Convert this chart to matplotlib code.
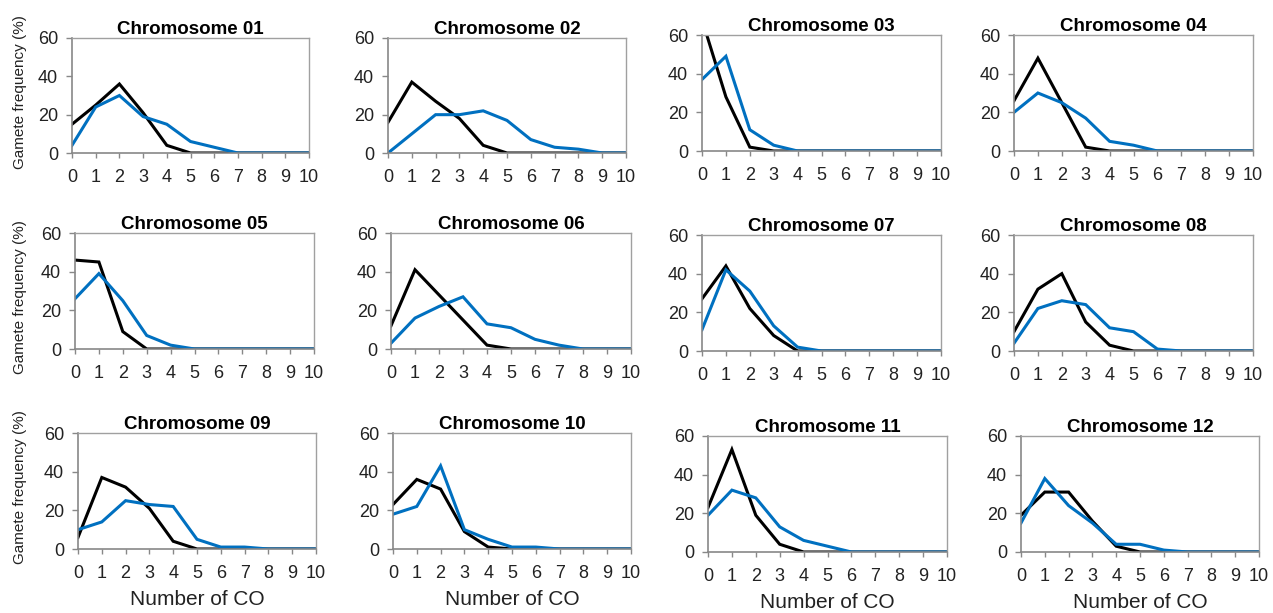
import matplotlib
matplotlib.use("Agg")
import matplotlib.pyplot as plt

plt.rcParams['font.family'] = ['Liberation Sans', 'DejaVu Sans']

x_co = list(range(11))
titles = ["Chromosome 01", "Chromosome 02", "Chromosome 03", "Chromosome 04",
          "Chromosome 05", "Chromosome 06", "Chromosome 07", "Chromosome 08",
          "Chromosome 09", "Chromosome 10", "Chromosome 11", "Chromosome 12"]

black_01 = [15, 25, 36, 21, 4, 0, 0, 0, 0, 0, 0]
blue_01 = [4, 24, 30, 19, 15, 6, 3, 0, 0, 0, 0]
black_02 = [16, 37, 27, 18, 4, 0, 0, 0, 0, 0, 0]
blue_02 = [0, 10, 20, 20, 22, 17, 7, 3, 2, 0, 0]
black_03 = [68, 28, 2, 0, 0, 0, 0, 0, 0, 0, 0]
blue_03 = [37, 49, 11, 3, 0, 0, 0, 0, 0, 0, 0]
black_04 = [26, 48, 25, 2, 0, 0, 0, 0, 0, 0, 0]
blue_04 = [20, 30, 25, 17, 5, 3, 0, 0, 0, 0, 0]
black_05 = [46, 45, 9, 0, 0, 0, 0, 0, 0, 0, 0]
blue_05 = [26, 39, 25, 7, 2, 0, 0, 0, 0, 0, 0]
black_06 = [12, 41, 28, 15, 2, 0, 0, 0, 0, 0, 0]
blue_06 = [3, 16, 22, 27, 13, 11, 5, 2, 0, 0, 0]
black_07 = [27, 44, 22, 8, 0, 0, 0, 0, 0, 0, 0]
blue_07 = [11, 42, 31, 13, 2, 0, 0, 0, 0, 0, 0]
black_08 = [10, 32, 40, 15, 3, 0, 0, 0, 0, 0, 0]
blue_08 = [4, 22, 26, 24, 12, 10, 1, 0, 0, 0, 0]
black_09 = [6, 37, 32, 21, 4, 0, 0, 0, 0, 0, 0]
blue_09 = [10, 14, 25, 23, 22, 5, 1, 1, 0, 0, 0]
black_10 = [23, 36, 31, 9, 1, 0, 0, 0, 0, 0, 0]
blue_10 = [18, 22, 43, 10, 5, 1, 1, 0, 0, 0, 0]
black_11 = [23, 53, 19, 4, 0, 0, 0, 0, 0, 0, 0]
blue_11 = [19, 32, 28, 13, 6, 3, 0, 0, 0, 0, 0]
black_12 = [19, 31, 31, 16, 3, 0, 0, 0, 0, 0, 0]
blue_12 = [15, 38, 24, 15, 4, 4, 1, 0, 0, 0, 0]

black_series = [black_01, black_02, black_03, black_04, black_05, black_06,
                black_07, black_08, black_09, black_10, black_11, black_12]
blue_series = [blue_01, blue_02, blue_03, blue_04, blue_05, blue_06,
               blue_07, blue_08, blue_09, blue_10, blue_11, blue_12]

y_ticks = [0, 20, 40, 60]

W, H = 1273, 613
fig = plt.figure(figsize=(W / 100, H / 100), dpi=100)

# pixel boxes (left, right, top, bottom)
boxes = [
    (72, 309, 38, 153), (388, 626, 38, 153), (702, 941, 35, 151), (1014, 1253, 35, 151),
    (75, 314, 233, 349), (391, 631, 233, 349), (702, 941, 235, 351), (1014, 1253, 235, 351),
    (78, 316, 433, 549), (393, 631, 433, 549), (708, 947, 436, 552), (1021, 1259, 436, 552),
]
xlabel_baseline = [None] * 8 + [605, 605, 608, 608]

for i, (l, r, t, b) in enumerate(boxes):
    ax = fig.add_axes([l / W, 1 - b / H, (r - l) / W, (b - t) / H])
    ax.plot(x_co, black_series[i], color="black", lw=2.2, solid_joinstyle="miter")
    ax.plot(x_co, blue_series[i], color="#0070C0", lw=2.2, solid_joinstyle="miter")
    ax.set_xlim(0, 10)
    ax.set_ylim(0, 60)
    ax.set_xticks(x_co)
    ax.set_yticks(y_ticks)
    ax.tick_params(axis="both", labelsize=13, width=1, color="#888888",
                   direction="out", labelcolor="#222222")
    ax.tick_params(axis="x", length=3.5, pad=8)
    ax.tick_params(axis="y", length=4, pad=6)
    for side in ["left", "bottom"]:
        ax.spines[side].set_color("#888888")
        ax.spines[side].set_linewidth(1.2)
    for side in ["top", "right"]:
        ax.spines[side].set_color("#a0a0a0")
        ax.spines[side].set_linewidth(1.0)
    ax.set_title(titles[i], fontsize=13.5, fontweight="bold", pad=3.2)
    if xlabel_baseline[i] is not None:
        fig.text((l + r) / 2 / W, 1 - xlabel_baseline[i] / H, "Number of CO",
                 ha="center", va="baseline", fontsize=15, color="#222222")

for yc in [92, 297, 487]:
    fig.text(20 / W, 1 - yc / H, "Gamete frequency (%)", rotation=90,
             ha="center", va="center", fontsize=11, color="#222222")

fig.savefig("out.png", dpi=100)
